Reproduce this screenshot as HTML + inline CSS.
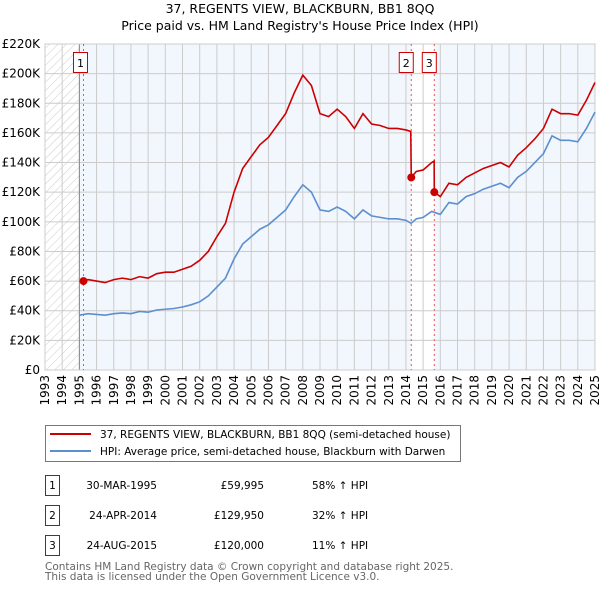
<!DOCTYPE html>
<html><head><meta charset="utf-8"><style>
body{margin:0;background:#fff;width:600px;height:590px;overflow:hidden;font-family:"DejaVu Sans","Liberation Sans",sans-serif;}
svg text{font-family:"DejaVu Sans","Liberation Sans",sans-serif;}
</style></head><body>
<svg id="c" width="600" height="590" xmlns="http://www.w3.org/2000/svg">
<defs><pattern id="hatch" width="6" height="6" patternUnits="userSpaceOnUse" patternTransform="rotate(45)"><line x1="0" y1="0" x2="0" y2="6" stroke="#ccc" stroke-width="1"/></pattern></defs>
<text x="300" y="13" text-anchor="middle" font-size="12.5">37, REGENTS VIEW, BLACKBURN, BB1 8QQ</text>
<text x="300" y="30" text-anchor="middle" font-size="12.5">Price paid vs. HM Land Registry's House Price Index (HPI)</text>
<g id="plot"></g>
<g>
<rect x="45.5" y="425.5" width="415" height="36" fill="#fff" stroke="#777"/>
<line x1="50" y1="434" x2="91" y2="434" stroke="#cc0000" stroke-width="2"/>
<text x="100" y="438" font-size="10.5">37, REGENTS VIEW, BLACKBURN, BB1 8QQ (semi-detached house)</text>
<line x1="50" y1="451" x2="91" y2="451" stroke="#5b8fd0" stroke-width="2"/>
<text x="100" y="455" font-size="10.5">HPI: Average price, semi-detached house, Blackburn with Darwen</text>
</g>
<g font-size="10.5">
<rect x="45.5" y="475.5" width="14" height="20" fill="#fff" stroke="#cc0000"/><text x="52.5" y="489" text-anchor="middle">1</text>
<text x="157" y="489" text-anchor="end">30-MAR-1995</text><text x="264" y="489" text-anchor="end">£59,995</text><text x="312" y="489">58% ↑ HPI</text>
<rect x="45.5" y="505.5" width="14" height="20" fill="#fff" stroke="#cc0000"/><text x="52.5" y="519" text-anchor="middle">2</text>
<text x="157" y="519" text-anchor="end">24-APR-2014</text><text x="264" y="519" text-anchor="end">£129,950</text><text x="312" y="519">32% ↑ HPI</text>
<rect x="45.5" y="535.5" width="14" height="20" fill="#fff" stroke="#cc0000"/><text x="52.5" y="549" text-anchor="middle">3</text>
<text x="157" y="549" text-anchor="end">24-AUG-2015</text><text x="264" y="549" text-anchor="end">£120,000</text><text x="312" y="549">11% ↑ HPI</text>
</g>
<text x="45" y="570" font-size="10.5" fill="#666">Contains HM Land Registry data © Crown copyright and database right 2025.</text>
<text x="45" y="580" font-size="10.5" fill="#666">This data is licensed under the Open Government Licence v3.0.</text>
</svg>
<script>
const hpiYears=[1995,1995.5,1996,1996.5,1997,1997.5,1998,1998.5,1999,1999.5,2000,2000.5,2001,2001.5,2002,2002.5,2003,2003.5,2004,2004.5,2005,2005.5,2006,2006.5,2007,2007.5,2008,2008.5,2009,2009.5,2010,2010.5,2011,2011.5,2012,2012.5,2013,2013.5,2014,2014.3,2014.6,2015,2015.5,2016,2016.5,2017,2017.5,2018,2018.5,2019,2019.5,2020,2020.5,2021,2021.5,2022,2022.5,2023,2023.5,2024,2024.5,2025];
const hpiValues=[37,38,37.5,37,38,38.5,38,39.5,39,40.5,41,41.5,42.5,44,46,50,56,62,75,85,90,95,98,103,108,117,125,120,108,107,110,107,102,108,104,103,102,102,101,99,102,103,107,105,113,112,117,119,122,124,126,123,130,134,140,146,158,155,155,154,163,174];
const priceYears=[1995.25,1995.5,1996,1996.5,1997,1997.5,1998,1998.5,1999,1999.5,2000,2000.5,2001,2001.5,2002,2002.5,2003,2003.5,2004,2004.5,2005,2005.5,2006,2006.5,2007,2007.5,2008,2008.5,2009,2009.5,2010,2010.5,2011,2011.5,2012,2012.5,2013,2013.5,2014,2014.28,2014.31,2014.6,2015,2015.5,2015.64,2015.65,2016,2016.5,2017,2017.5,2018,2018.5,2019,2019.5,2020,2020.5,2021,2021.5,2022,2022.5,2023,2023.5,2024,2024.5,2025];
const priceValues=[60,61,60,59,61,62,61,63,62,65,66,66,68,70,74,80,90,99,120,136,144,152,157,165,173,187,199,192,173,171,176,171,163,173,166,165,163,163,162,161,130,134,135,140,141,120,117,126,125,130,133,136,138,140,137,145,150,156,163,176,173,173,172,182,194];
const saleYears=[1995.24,2014.31,2015.65];
const saleValues=[59.995,129.95,120];
const saleLabels=["1","2","3"];
const yTicks=[0,20,40,60,80,100,120,140,160,180,200,220];
const xTicks=[1993,1994,1995,1996,1997,1998,1999,2000,2001,2002,2003,2004,2005,2006,2007,2008,2009,2010,2011,2012,2013,2014,2015,2016,2017,2018,2019,2020,2021,2022,2023,2024,2025];
const X0=45,X1=595,Y0=370,Y1=44;
const xs=y=>X0+(y-1993)/(2025-1993)*(X1-X0);
const ys=v=>Y0-v/220*(Y0-Y1);
const NS="http://www.w3.org/2000/svg";
const g=document.getElementById('plot');
function mk(t,a,p){const e=document.createElementNS(NS,t);for(const k in a)e.setAttribute(k,a[k]);(p||g).appendChild(e);return e;}
const bg=mk('rect',{x:X0,y:Y1,width:X1-X0,height:Y0-Y1,fill:'#f2f6fd'});


const hat=mk('rect',{x:X0,y:Y1,width:xs(1995)-X0,height:Y0-Y1,fill:'#fff'});
mk('rect',{x:X0,y:Y1,width:xs(1995)-X0,height:Y0-Y1,fill:'url(#hatch)'});


const band=mk('rect',{x:xs(saleYears[1]),y:Y1,width:xs(saleYears[2])-xs(saleYears[1]),height:Y0-Y1,fill:'#fff'});


yTicks.forEach(v=>{
  mk('line',{x1:X0,x2:X1,y1:ys(v),y2:ys(v),stroke:'#ccc','stroke-width':1});
  const t=mk('text',{x:40,y:ys(v)+4,'text-anchor':'end','font-size':12});
  t.textContent=v===0?'£0':'£'+v+'K';
  
  
});
xTicks.forEach(y=>{
  mk('line',{x1:xs(y),x2:xs(y),y1:Y1,y2:Y0,stroke:'#ccc','stroke-width':1});
  const t=mk('text',{x:0,y:0,'text-anchor':'end','font-size':12,transform:`translate(${xs(y)+4},${Y0+5}) rotate(-90)`});
  t.textContent=y;
  
  
});
mk('line',{x1:xs(1995),x2:xs(1995),y1:Y1,y2:Y0,stroke:'#888','stroke-width':1});
mk('rect',{x:X0,y:Y1,width:X1-X0,height:Y0-Y1,fill:'none',stroke:'#ccc'});
saleYears.forEach((y,i)=>{
  mk('line',{x1:xs(y),x2:xs(y),y1:Y1,y2:Y0,stroke:'#ee5555','stroke-dasharray':'2,3','stroke-width':1});
});
const hp=mk('polyline',{points:hpiYears.map((y,i)=>xs(y)+','+ys(hpiValues[i])).join(' '),fill:'none',stroke:'#5b8fd0','stroke-width':1.6});


const pp=mk('polyline',{points:priceYears.map((y,i)=>xs(y)+','+ys(priceValues[i])).join(' '),fill:'none',stroke:'#cc0000','stroke-width':1.6});


const boxOff=[-10,-12,-12];
saleYears.forEach((y,i)=>{
  const c=mk('circle',{cx:xs(y),cy:ys(saleValues[i]),r:4,fill:'#cc0000'});
  
  
  const r=mk('rect',{x:xs(y)+boxOff[i],y:52.5,width:14,height:20,fill:'#fff',stroke:'#cc0000'});
  
  
  const t=mk('text',{x:xs(y)+boxOff[i]+7,y:67,'text-anchor':'middle','font-size':11});
  t.textContent=saleLabels[i];
  
  
});
</script>
</body></html>
